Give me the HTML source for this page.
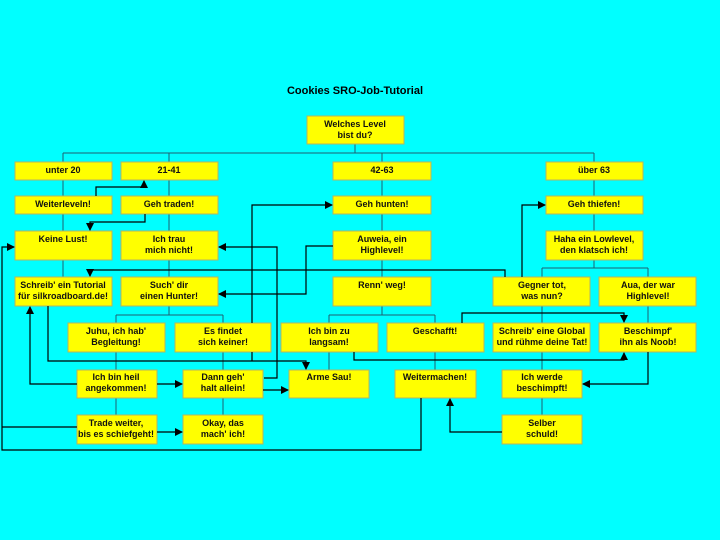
<!DOCTYPE html>
<html><head><meta charset="utf-8"><style>
html,body{margin:0;padding:0;background:#00ffff;}
svg{display:block;}
text{font-family:"Liberation Sans",Arial,sans-serif;font-weight:bold;font-size:9px;fill:#111;text-anchor:middle;}
.b{fill:#ffff00;stroke:#b5b560;stroke-width:1;}
.t{stroke:#1f5f70;stroke-width:1;fill:none;}
.a{stroke:#000;stroke-width:1.2;fill:none;}
</style></head><body>
<svg width="720" height="540" viewBox="0 0 720 540" xmlns="http://www.w3.org/2000/svg">
<defs><marker id="m" markerWidth="8" markerHeight="8" refX="7" refY="4" orient="auto" markerUnits="userSpaceOnUse"><path d="M0,0 L8,4 L0,8 z" fill="#000"/></marker></defs>
<text x="355" y="94" style="font-size:11px;fill:#000">Cookies SRO-Job-Tutorial</text>
<g class="t">
<path d="M355,144V153M63,153H594M63,153V306M169,153V306M382,153V306M594,153V268M542,268H648M542,268V352M648,268V323"/>
<path d="M169,306V315M116,315H223M116,315V415M223,315V415"/>
<path d="M382,306V315M329,315H435M329,315V370M435,315V370"/>
<path d="M542,352V415"/>
</g>
<g>
<rect class="b" x="307" y="116" width="97" height="28"/>
<rect class="b" x="15" y="162" width="97" height="18"/><rect class="b" x="121" y="162" width="97" height="18"/><rect class="b" x="333" y="162" width="98" height="18"/><rect class="b" x="546" y="162" width="97" height="18"/>
<rect class="b" x="15" y="196" width="97" height="18"/><rect class="b" x="121" y="196" width="97" height="18"/><rect class="b" x="333" y="196" width="98" height="18"/><rect class="b" x="546" y="196" width="97" height="18"/>
<rect class="b" x="15" y="231" width="97" height="29"/><rect class="b" x="121" y="231" width="97" height="29"/><rect class="b" x="333" y="231" width="98" height="29"/><rect class="b" x="546" y="231" width="97" height="29"/>
<rect class="b" x="15" y="277" width="97" height="29"/><rect class="b" x="121" y="277" width="97" height="29"/><rect class="b" x="333" y="277" width="98" height="29"/><rect class="b" x="493" y="277" width="97" height="29"/><rect class="b" x="599" y="277" width="97" height="29"/>
<rect class="b" x="68" y="323" width="97" height="29"/><rect class="b" x="175" y="323" width="96" height="29"/><rect class="b" x="281" y="323" width="97" height="29"/><rect class="b" x="387" y="323" width="97" height="29"/><rect class="b" x="493" y="323" width="97" height="29"/><rect class="b" x="599" y="323" width="97" height="29"/>
<rect class="b" x="77" y="370" width="80" height="28"/><rect class="b" x="183" y="370" width="80" height="28"/><rect class="b" x="289" y="370" width="80" height="28"/><rect class="b" x="395" y="370" width="81" height="28"/><rect class="b" x="502" y="370" width="80" height="28"/>
<rect class="b" x="77" y="415" width="80" height="29"/><rect class="b" x="183" y="415" width="80" height="29"/><rect class="b" x="502" y="415" width="80" height="29"/>
</g>
<text x="355" y="127">Welches Level</text><text x="355" y="138">bist du?</text>
<text x="63" y="173">unter 20</text><text x="169" y="173">21-41</text><text x="382" y="173">42-63</text><text x="594" y="173">über 63</text>
<text x="63" y="207">Weiterleveln!</text><text x="169" y="207">Geh traden!</text><text x="382" y="207">Geh hunten!</text><text x="594" y="207">Geh thiefen!</text>
<text x="63" y="242">Keine Lust!</text>
<text x="169" y="242">Ich trau</text><text x="169" y="253">mich nicht!</text>
<text x="382" y="242">Auweia, ein</text><text x="382" y="253">Highlevel!</text>
<text x="594" y="242">Haha ein Lowlevel,</text><text x="594" y="253">den klatsch ich!</text>
<text x="63" y="288">Schreib' ein Tutorial</text><text x="63" y="299">für silkroadboard.de!</text>
<text x="169" y="288">Such' dir</text><text x="169" y="299">einen Hunter!</text>
<text x="382" y="288">Renn' weg!</text>
<text x="542" y="288">Gegner tot,</text><text x="542" y="299">was nun?</text>
<text x="648" y="288">Aua, der war</text><text x="648" y="299">Highlevel!</text>
<text x="116" y="334">Juhu, ich hab'</text><text x="116" y="345">Begleitung!</text>
<text x="223" y="334">Es findet</text><text x="223" y="345">sich keiner!</text>
<text x="329" y="334">Ich bin zu</text><text x="329" y="345">langsam!</text>
<text x="435" y="334">Geschafft!</text>
<text x="542" y="334">Schreib' eine Global</text><text x="542" y="345">und rühme deine Tat!</text>
<text x="648" y="334">Beschimpf'</text><text x="648" y="345">ihn als Noob!</text>
<text x="116" y="380">Ich bin heil</text><text x="116" y="391">angekommen!</text>
<text x="223" y="380">Dann geh'</text><text x="223" y="391">halt allein!</text>
<text x="329" y="380">Arme Sau!</text>
<text x="435" y="380">Weitermachen!</text>
<text x="542" y="380">Ich werde</text><text x="542" y="391">beschimpft!</text>
<text x="116" y="426">Trade weiter,</text><text x="116" y="437">bis es schiefgeht!</text>
<text x="223" y="426">Okay, das</text><text x="223" y="437">mach' ich!</text>
<text x="542" y="426">Selber</text><text x="542" y="437">schuld!</text>
<g class="a">
<path d="M96,196V187H144V181" marker-end="url(#m)"/>
<path d="M145,214V222H90V230" marker-end="url(#m)"/>
<path d="M421,398V450H2V247H14" marker-end="url(#m)"/>
<path d="M77,427H2"/>
<path d="M77,384H30V307" marker-end="url(#m)"/>
<path d="M48,306V361H306V369" marker-end="url(#m)"/>
<path d="M252,352V361"/>
<path d="M252,323V205H332" marker-end="url(#m)"/>
<path d="M264,378H277V247H219" marker-end="url(#m)"/>
<path d="M333,246H306V294H219" marker-end="url(#m)"/>
<path d="M505,277V270H90V276" marker-end="url(#m)"/>
<path d="M522,277V205H545" marker-end="url(#m)"/>
<path d="M462,323V313H624V322" marker-end="url(#m)"/>
<path d="M354,352V360H624V353" marker-end="url(#m)"/>
<path d="M648,352V384H583" marker-end="url(#m)"/>
<path d="M502,432H450V399" marker-end="url(#m)"/>
<path d="M157,384H182" marker-end="url(#m)"/>
<path d="M157,432H182" marker-end="url(#m)"/>
<path d="M263,390H288" marker-end="url(#m)"/>
</g>
</svg>
</body></html>
